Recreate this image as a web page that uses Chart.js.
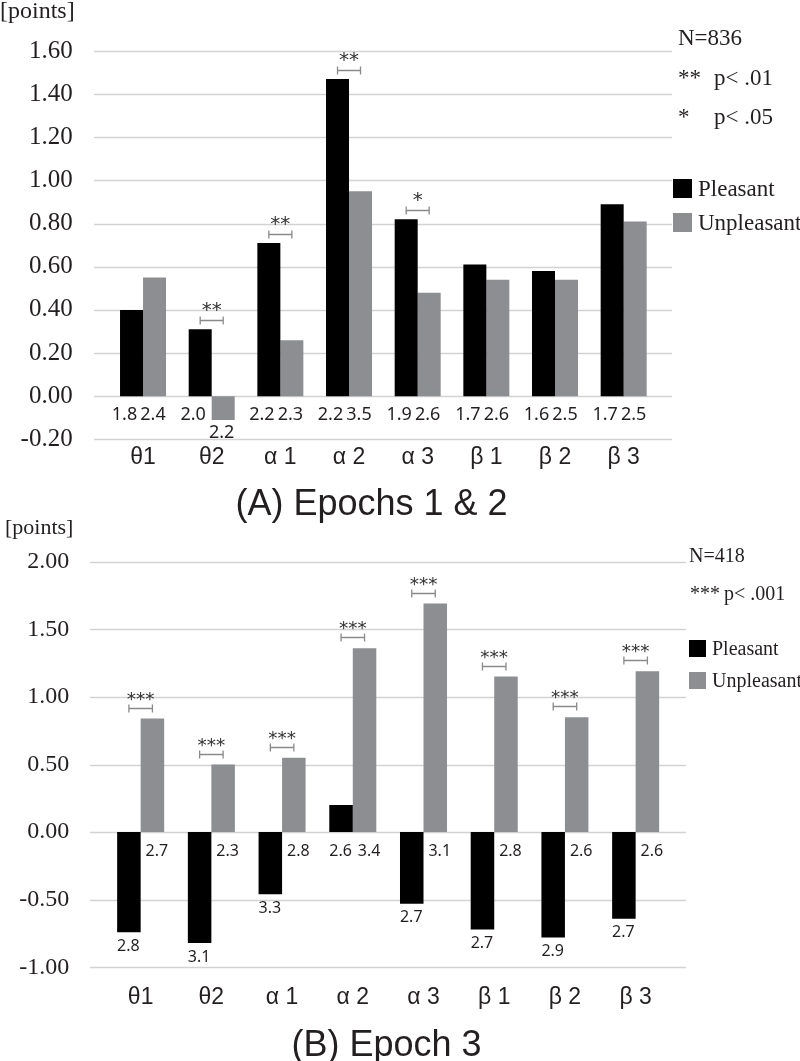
<!DOCTYPE html>
<html>
<head>
<meta charset="utf-8">
<script src="https://cdn.jsdelivr.net/npm/chart.js@4.4.0/dist/chart.umd.min.js"></script>
<style>
  body { margin: 0; background: #fff; }
  canvas { position: absolute; left: 0; }
</style>
</head>
<body>
<canvas id="chartA" width="800" height="530" style="top:0"></canvas>
<canvas id="chartB" width="800" height="561" style="top:500px"></canvas>
<script>
// Bandas (eixo x)
const bands = ['θ1', 'θ2', 'α 1', 'α 2', 'α 3', 'β 1', 'β 2', 'β 3'];

// (A) Epochs 1 & 2
const pleasantA = [0.40, 0.31, 0.71, 1.47, 0.82, 0.61, 0.58, 0.89];
const unpleasantA = [0.55, -0.11, 0.26, 0.95, 0.48, 0.54, 0.54, 0.81];
const sdPleasantA = ['1.8', '2.0', '2.2', '2.2', '1.9', '1.7', '1.6', '1.7'];
const sdUnpleasantA = ['2.4', '2.2', '2.3', '3.5', '2.6', '2.6', '2.5', '2.5'];
const sigA = ['', '**', '**', '**', '*', '', '', ''];
const ticksA = { min: -0.2, max: 1.6, step: 0.2 };

// (B) Epoch 3
const pleasantB = [-0.74, -0.82, -0.46, 0.20, -0.53, -0.72, -0.78, -0.64];
const unpleasantB = [0.84, 0.50, 0.55, 1.36, 1.69, 1.15, 0.85, 1.19];
const sdPleasantB = ['2.8', '3.1', '3.3', '2.6', '2.7', '2.7', '2.9', '2.7'];
const sdUnpleasantB = ['2.7', '2.3', '2.8', '3.4', '3.1', '2.8', '2.6', '2.6'];
const sigB = ['***', '***', '***', '***', '***', '***', '***', '***'];
const ticksB = { min: -1.0, max: 2.0, step: 0.5 };

const corTexto = '#231f20';
const corPreto = '#000000';
const corCinza = '#8d8e92';
const serif = '"Liberation Serif", "Times New Roman", serif';
const sans = '"Liberation Sans", Arial, sans-serif';
const gothic = '"Noto Sans", sans-serif';
const star = '"DejaVu Sans", sans-serif';

// Plugin: grade estendida, valores sob as barras, colchetes de significância, legenda e notas
const decor = {
  id: 'decor',
  beforeDatasetsDraw(chart, args, o) {
    const { ctx, chartArea: a, scales: { y } } = chart;
    ctx.save();
    ctx.strokeStyle = '#d3d3d3';
    ctx.lineWidth = 1.4;
    y.ticks.forEach(t => {
      const py = Math.round(y.getPixelForValue(t.value)) + 0.5;
      ctx.beginPath();
      ctx.moveTo(a.left - o.ext[0], py);
      ctx.lineTo(a.right + o.ext[1], py);
      ctx.stroke();
    });
    ctx.restore();
  },
  afterDatasetsDraw(chart, args, o) {
    const { ctx, scales: { y } } = chart;
    const zero = y.getPixelForValue(0);
    ctx.save();

    // valores sob as barras
    ctx.font = o.sdFont;
    ctx.fillStyle = corTexto;
    ctx.textAlign = 'center';
    ctx.textBaseline = 'middle';
    chart.data.datasets.forEach((ds, i) => {
      chart.getDatasetMeta(i).data.forEach((bar, j) => {
        const v = ds.data[j];
        const ly = v >= 0 ? zero + o.sdPos : bar.y + o.sdNeg;
        ctx.fillText(o.sd[i][j], bar.x + o.sdShift[i], ly);
      });
    });

    // colchetes
    const m0 = chart.getDatasetMeta(0).data;
    const m1 = chart.getDatasetMeta(1).data;
    o.sig.forEach((s, j) => {
      if (!s) return;
      const top = Math.min(m0[j].y, m1[j].y, zero);
      const by = Math.round(top - o.gap) + 0.5;
      const x0 = m0[j].x, x1 = m1[j].x;
      ctx.strokeStyle = '#8a8a8a';
      ctx.lineWidth = 1.3;
      ctx.beginPath();
      ctx.moveTo(x0, by); ctx.lineTo(x1, by);
      ctx.moveTo(x0, by - 4); ctx.lineTo(x0, by + 4);
      ctx.moveTo(x1, by - 4); ctx.lineTo(x1, by + 4);
      ctx.stroke();
      ctx.font = o.starFont;
      ctx.fillStyle = '#333';
      ctx.textBaseline = 'alphabetic';
      ctx.fillText(s, (x0 + x1) / 2, by + o.starOff);
    });
    ctx.restore();
  },
  afterDraw(chart, args, o) {
    const { ctx } = chart;
    ctx.save();
    ctx.fillStyle = corTexto;
    ctx.textBaseline = 'middle';
    ctx.textAlign = 'left';

    // rótulo do eixo y
    ctx.font = o.unitFont;
    ctx.fillText('[points]', o.unit[0], o.unit[1]);

    // notas
    ctx.font = o.noteFont;
    o.notes.forEach(n => ctx.fillText(n[0], n[1], n[2]));

    // legenda
    chart.data.datasets.forEach((ds, i) => {
      const [bx, by] = o.legend[i];
      ctx.fillStyle = ds.backgroundColor;
      ctx.fillRect(bx, by, o.box, o.box);
      ctx.fillStyle = corTexto;
      ctx.fillText(ds.label, bx + o.box + 6, by + o.box / 2 + 1);
    });

    // título
    ctx.font = '36px ' + sans;
    ctx.textAlign = 'center';
    ctx.textBaseline = 'alphabetic';
    ctx.fillStyle = '#231f20';
    ctx.fillText(o.title, o.titlePos[0], o.titlePos[1]);
    ctx.restore();
  }
};

function criarGrafico(id, cfg) {
  return new Chart(document.getElementById(id), {
    type: 'bar',
    data: {
      labels: bands,
      datasets: [
        { label: 'Pleasant', data: cfg.pleasant, backgroundColor: corPreto, borderWidth: 0,
          categoryPercentage: cfg.catPct, barPercentage: 1.0 },
        { label: 'Unpleasant', data: cfg.unpleasant, backgroundColor: corCinza, borderWidth: 0,
          categoryPercentage: cfg.catPct, barPercentage: 1.0 }
      ]
    },
    options: {
      responsive: false,
      animation: false,
      events: [],
      layout: { padding: cfg.padding },
      plugins: {
        legend: { display: false },
        tooltip: { enabled: false },
        decor: cfg.decor
      },
      scales: {
        x: {
          grid: { display: false, drawTicks: false },
          border: { display: false },
          ticks: { font: { family: sans, size: 23 }, color: corTexto, padding: cfg.xPad, maxRotation: 0 },
          afterFit: s => { s.height = cfg.xH; }
        },
        y: {
          min: cfg.ticks.min,
          max: cfg.ticks.max,
          grid: { display: false, drawTicks: false },
          border: { display: false },
          ticks: {
            stepSize: cfg.ticks.step,
            font: { family: serif, size: cfg.yFont },
            color: corTexto,
            padding: 36,
            callback: v => Number(v).toFixed(2)
          },
          afterFit: s => { s.width = cfg.yW; }
        }
      }
    },
    plugins: [decor]
  });
}

criarGrafico('chartA', {
  pleasant: pleasantA, unpleasant: unpleasantA, ticks: ticksA,
  catPct: 0.67, yW: 108.7, xH: 40, xPad: 4, yFont: 25,
  padding: { top: 42.3, right: 142, bottom: 50.6, left: 0 },
  decor: {
    ext: [14.7, 14],
    sd: [sdPleasantA, sdUnpleasantA], sdFont: '18px ' + gothic, sdPos: 18.5, sdNeg: 13, sdShift: [-7, -1.5],
    sig: sigA, gap: 9, starFont: '20px ' + star, starOff: -5,
    unitFont: '24px ' + serif, unit: [0, 12],
    noteFont: '23px ' + serif,
    notes: [['N=836', 678, 39], ['**', 678, 79], ['p< .01', 714, 79], ['*', 678, 118], ['p< .05', 714, 118]],
    legend: [[673, 179], [673, 213]], box: 19,
    title: '(A) Epochs 1 & 2', titlePos: [371.5, 515]
  }
});

criarGrafico('chartB', {
  pleasant: pleasantB, unpleasant: unpleasantB, ticks: ticksB,
  catPct: 0.665, yW: 105.3, xH: 50, xPad: 17, yFont: 24,
  padding: { top: 61.7, right: 129, bottom: 43.7, left: 0 },
  decor: {
    ext: [15.3, 15],
    sd: [sdPleasantB, sdUnpleasantB], sdFont: '16px ' + gothic, sdPos: 19.5, sdNeg: 14, sdShift: [-0.5, 4.5],
    sig: sigB, gap: 11, starFont: '18.5px ' + star, starOff: -4,
    unitFont: '22px ' + serif, unit: [5, 28],
    noteFont: '20px ' + serif,
    notes: [['N=418', 689, 57], ['***', 690, 95], ['p< .001', 724, 95]],
    legend: [[689, 140], [689, 172]], box: 17,
    title: '(B) Epoch 3', titlePos: [386.5, 556]
  }
});
</script>
</body>
</html>
